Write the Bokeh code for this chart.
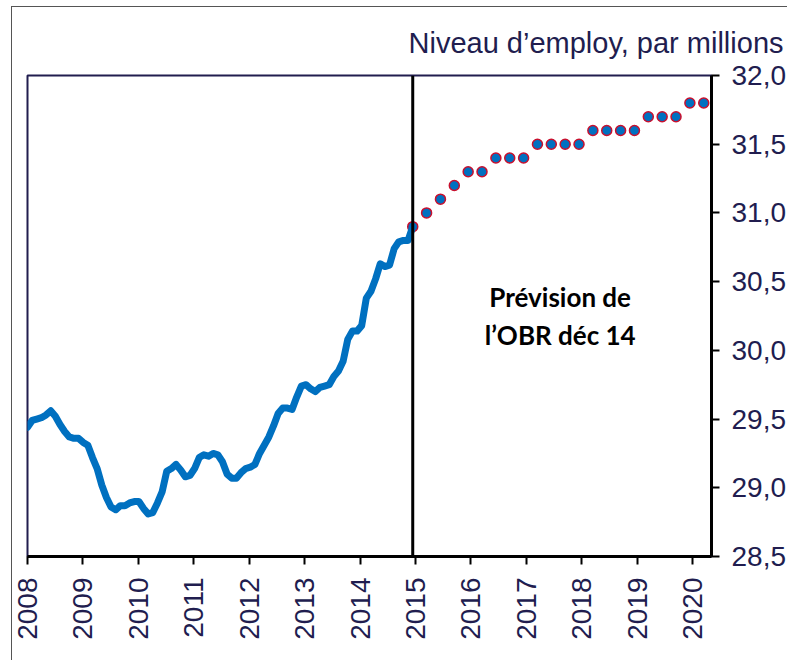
import numpy as np
from math import pi
from bokeh.plotting import figure
from bokeh.models import Range1d, FixedTicker, CustomJSTickFormatter, Span, Label
from bokeh.embed import file_html
from bokeh.resources import INLINE

# ---- data -------------------------------------------------------------
# Employment level, millions, monthly Jan 2008 .. Dec 2014
employment = [
    29.44, 29.49, 29.50, 29.51, 29.53, 29.56, 29.52, 29.46, 29.41, 29.37, 29.36, 29.36,
    29.33, 29.31, 29.22, 29.14, 29.02, 28.93, 28.86, 28.84, 28.87, 28.87, 28.89, 28.90,
    28.90, 28.85, 28.81, 28.82, 28.89, 28.97, 29.12, 29.14, 29.17, 29.13, 29.08, 29.09,
    29.14, 29.22, 29.24, 29.23, 29.25, 29.24, 29.19, 29.10, 29.07, 29.07, 29.11, 29.14,
    29.15, 29.17, 29.25, 29.31, 29.37, 29.45, 29.54, 29.58, 29.58, 29.57, 29.66, 29.74,
    29.75, 29.72, 29.70, 29.73, 29.74, 29.75, 29.81, 29.85, 29.92, 30.08, 30.14, 30.14,
    30.18, 30.38, 30.43, 30.52, 30.63, 30.61, 30.62, 30.74, 30.79, 30.80, 30.80, 30.90,
]
months_start = 2008.0
months_end = 2014.95
months = list(np.linspace(months_start, months_end, len(employment)))

# OBR Dec 14 forecast, quarterly
forecast = [30.90,
            31.0, 31.1, 31.2, 31.3, 31.3, 31.4, 31.4, 31.4, 31.5, 31.5, 31.5, 31.5,
            31.6, 31.6, 31.6, 31.6, 31.7, 31.7, 31.7, 31.8, 31.8]
forecast_x = [months_end + 0.25 * k for k in range(len(forecast))]

year_ticks = list(range(2008, 2021))
level_ticks = [28.5, 29.0, 29.5, 30.0, 30.5, 31.0, 31.5, 32.0]
x_limits = (2008.0, 2020.34)
y_limits = (28.5, 32.0)
divider_x = months_end

title_text = "Niveau d\u2019employ, par millions"
note_text = "Pr\u00e9vision de\nl\u2019OBR d\u00e9c 14"
note_pos = (2017.61, 30.25)

# ---- styling ----------------------------------------------------------
NAVY = "#211D4F"
BLUE = "#0070C0"
RED = "#C8102E"
FONT = "Liberation Sans"

p = figure(width=776, height=654, output_backend="svg", toolbar_location=None,
           x_range=Range1d(*x_limits), y_range=Range1d(*y_limits),
           y_axis_location="right",
           min_border_left=15, min_border_right=76,
           min_border_top=67, min_border_bottom=105)

p.background_fill_color = "white"
p.border_fill_color = "white"
p.outline_line_color = NAVY
p.outline_line_width = 2
p.xgrid.visible = False
p.ygrid.visible = False
p.styles = {"margin-left": "11px", "margin-top": "6px",
            "border-left": "1px solid #555555", "border-top": "1px solid #555555"}

p.title.text = title_text
p.title.text_font = FONT
p.title.text_font_size = "29px"
p.title.text_font_style = "normal"
p.title.text_color = NAVY
p.title.align = "left"
p.title.offset = 381
p.title.standoff = 34

for ax in (p.xaxis[0], p.yaxis[0]):
    ax.axis_line_color = "black"
    ax.axis_line_width = 3
    ax.major_tick_line_color = "black"
    ax.major_tick_line_width = 2
    ax.major_tick_out = 8
    ax.major_tick_in = 0
    ax.minor_tick_out = 0
    ax.minor_tick_in = 0
    ax.major_label_text_font = FONT
    ax.major_label_text_font_size = "28px"
    ax.major_label_text_color = NAVY

p.xaxis.major_label_standoff = 13
p.yaxis.major_label_standoff = 12
p.xaxis.ticker = FixedTicker(ticks=year_ticks)
p.xaxis.major_label_orientation = pi / 2
p.yaxis.ticker = FixedTicker(ticks=level_ticks)
p.yaxis.formatter = CustomJSTickFormatter(code="return tick.toFixed(1).replace('.', ',');")

# divider line
p.add_layout(Span(location=divider_x, dimension="height", line_color="black", line_width=3))

# forecast dots
p.scatter(forecast_x, forecast, size=10, fill_color=BLUE, line_color=RED, line_width=1.5)

# actual employment line
p.line(months, employment, line_color=BLUE, line_width=7, line_join="round", line_cap="round")

p.add_layout(Label(x=note_pos[0], y=note_pos[1], text=note_text,
                   text_align="center", text_baseline="middle",
                   text_font="Lato", text_font_style="bold", text_font_size="26px",
                   text_color="black", text_line_height=1.2))

open("out.html", "w").write(file_html(p, INLINE))
